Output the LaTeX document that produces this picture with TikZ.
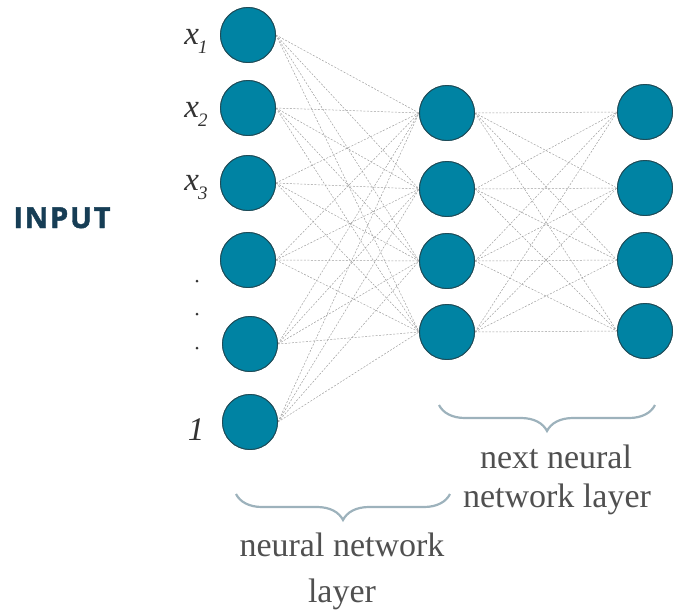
\documentclass[tikz,border=0pt]{standalone}
\usepackage{fontspec}
\setmainfont{Liberation Serif}
\newfontfamily\inputfont{Open Sans}[LetterSpace=6, BoldFeatures={FakeBold=1.6}]
\usetikzlibrary{decorations.pathreplacing}
\definecolor{neuron}{HTML}{0083A3}
\definecolor{neuronedge}{HTML}{1F4B57}
\definecolor{linkgray}{HTML}{A0A0A0}
\definecolor{bracecol}{HTML}{9DB2BC}
\definecolor{textgray}{HTML}{505050}
\definecolor{navy}{HTML}{163D55}
\tikzset{
  neuronnode/.style={circle, fill=neuron, draw=neuronedge, line width=0.9pt, minimum size=55pt, inner sep=0pt},
  link/.style={draw=linkgray, line width=0.5pt, dash pattern=on 2pt off 1.5pt},
  bracedeco/.style={draw=bracecol, line width=2.2pt, decorate, decoration={brace, mirror, amplitude=26pt}},
  layertext/.style={anchor=base, text=textgray, font=\fontsize{34}{40}\selectfont, inner sep=0pt},
  xlabel/.style={anchor=base, text=black!80, inner sep=0pt, font=\fontsize{33}{33}\selectfont\itshape},
}
\newcommand{\xsub}[1]{x\kern-1pt\raisebox{-0.3em}{\fontsize{19}{19}\selectfont\itshape #1}}
\begin{document}
\begin{tikzpicture}[x=1pt,y=-1pt]
\useasboundingbox (0,0) rectangle (673,614);
% input layer
\node[neuronnode] (i1) at (248,35) {};
\node[neuronnode] (i2) at (248,108) {};
\node[neuronnode] (i3) at (248,183) {};
\node[neuronnode] (i4) at (248,260) {};
\node[neuronnode] (i5) at (250,344) {};
\node[neuronnode] (i6) at (250,422) {};
% hidden layer
\node[neuronnode] (h1) at (447,113) {};
\node[neuronnode] (h2) at (447,189) {};
\node[neuronnode] (h3) at (447,261) {};
\node[neuronnode] (h4) at (447,332) {};
% next layer
\node[neuronnode] (o1) at (645,112) {};
\node[neuronnode] (o2) at (645,188) {};
\node[neuronnode] (o3) at (645,260) {};
\node[neuronnode] (o4) at (645,331) {};
% connections
\foreach \i in {1,...,6}{
  \foreach \h in {1,...,4}{
    \draw[link] (i\i.east) -- (h\h.west);
  }
}
\foreach \h in {1,...,4}{
  \foreach \o in {1,...,4}{
    \draw[link] (h\h.east) -- (o\o.west);
  }
}
% redraw nodes over links
\foreach \n in {i1,i2,i3,i4,i5,i6,h1,h2,h3,h4,o1,o2,o3,o4}{
  \path (\n.center) node[neuronnode] {};
}
% labels
\node[xlabel] (l1) at (196,44) {\xsub{1}};
\node[xlabel] (l2) at (196,117) {\xsub{2}};
\node[xlabel] (l3) at (196,190) {\xsub{3}};
\node[xlabel] (l6) at (196,440) {1};
\fill[black!80] (197,281) circle (1.5pt);
\fill[black!80] (197,314) circle (1.5pt);
\fill[black!80] (197,348) circle (1.5pt);
% INPUT
\node[anchor=base, text=navy, inner sep=0pt, font=\inputfont\bfseries\fontsize{29}{29}\selectfont] (inp) at (62,228) {INPUT};
% braces
\coordinate (b1a) at (236,494);
\coordinate (b1b) at (450,494);
\draw[bracedeco] (b1a) -- (b1b);
\coordinate (b2a) at (439,405);
\coordinate (b2b) at (655,405);
\draw[bracedeco] (b2a) -- (b2b);
% layer texts
\node[layertext] (t1) at (342,556) {neural network};
\node[layertext] (t2) at (342,602) {layer};
\node[layertext] (t3) at (556,468) {next neural};
\node[layertext] (t4) at (557,507) {network layer};
\end{tikzpicture}
\end{document}
